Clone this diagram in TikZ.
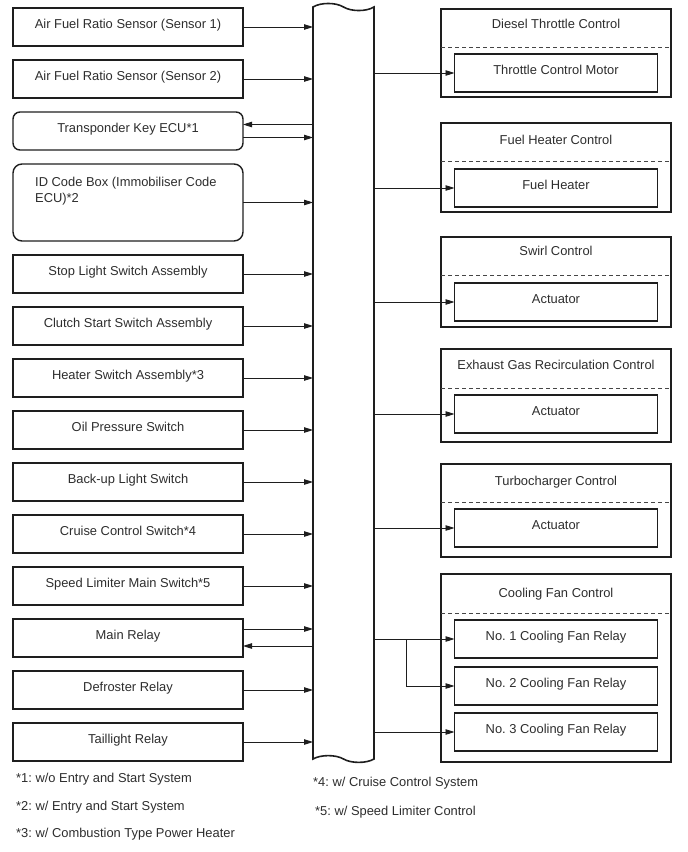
\documentclass[tikz,border=0pt]{standalone}
\usepackage{fontspec}
\setmainfont{Liberation Sans}
\usetikzlibrary{arrows.meta,positioning}
\definecolor{linecol}{RGB}{30,30,30}
\definecolor{txtcol}{RGB}{45,45,45}
\definecolor{dashcol}{RGB}{70,70,70}

\begin{document}
\frenchspacing
\begin{tikzpicture}[
  x=1pt, y=-1pt, >={Triangle[length=9pt,width=5.5pt]}, node distance=14pt,
  txt/.style={font=\fontsize{12.9}{16.5}\selectfont, text=txtcol},
  box/.style={txt, draw=linecol, line width=1.4pt, inner sep=0pt, outer sep=0pt,
              minimum width=230pt, minimum height=38pt, text height=20.3pt, text depth=17.7pt},
  sub/.style={box, minimum width=203pt, anchor=north},
  grp/.style={draw=linecol, line width=1.4pt, inner sep=0pt, outer sep=0pt,
              minimum width=230pt, anchor=north},
  ttl/.style={txt, inner sep=0pt, anchor=base},
  note/.style={txt, inner sep=0pt, anchor=base west},
  sig/.style={->, line width=0.9pt, draw=linecol},
  sep/.style={dash pattern=on 4pt off 3pt, line width=1pt, draw=dashcol},
  bus/.style={draw=linecol, line width=1.6pt, fill=white}
]
\useasboundingbox (0,0) rectangle (688,852);

\node[inner sep=0pt, outer sep=0pt, minimum width=61pt, minimum height=752pt, anchor=north west] (ecm) at (313,7) {};
\draw[bus] (313,759) -- (313,7)
  .. controls (320.6,2.3) and (335.9,2.3) .. (343.5,7)
  .. controls (351.1,11.7) and (366.4,11.7) .. (374,7) -- (374,759)
  .. controls (366.4,763.5) and (351.1,763.5) .. (343.5,759)
  .. controls (335.9,754.5) and (320.6,754.5) .. (313,759) -- cycle;

\node[box] (afs1) at (128,27) {Air Fuel Ratio Sensor (Sensor 1)};
\node[box, below=of afs1] (afs2) {Air Fuel Ratio Sensor (Sensor 2)};
\node[box, rounded corners=7pt, below=of afs2] (tkey) {Transponder Key ECU*1};
\node[box, rounded corners=9pt, minimum height=77pt, below=of tkey] (idbox) {};
\node[txt, inner sep=0pt, align=left, anchor=north west] (idtxt)
  at ([xshift=22pt, yshift=-12.5pt]idbox.north west) {ID Code Box (Immobiliser Code\\ECU)*2};
\node[box, below=of idbox] (stop) {Stop Light Switch Assembly};
\node[box, below=of stop] (clutch) {Clutch Start Switch Assembly};
\node[box, below=of clutch] (heatsw) {Heater Switch Assembly*3};
\node[box, below=of heatsw] (oilsw) {Oil Pressure Switch};
\node[box, below=of oilsw] (bkup) {Back-up Light Switch};
\node[box, below=of bkup] (cruise) {Cruise Control Switch*4};
\node[box, below=of cruise] (spdlim) {Speed Limiter Main Switch*5};
\node[box, below=of spdlim] (mainrly) {Main Relay};
\node[box, below=of mainrly] (defrly) {Defroster Relay};
\node[box, below=of defrly] (tailrly) {Taillight Relay};

\node[grp, minimum height=88pt] (dtc) at (556,9) {};
\draw[sep] ([yshift=-38pt]dtc.north west) -- ([yshift=-38pt]dtc.north east);
\node[ttl] (dtct) at ([yshift=-19pt]dtc.north) {Diesel Throttle Control};
\node[sub] (tcm) at ([yshift=-45pt]dtc.north) {Throttle Control Motor};

\node[grp, minimum height=89pt] (fhc) at (556,123) {};
\draw[sep] ([yshift=-38pt]fhc.north west) -- ([yshift=-38pt]fhc.north east);
\node[ttl] (fhct) at ([yshift=-21pt]fhc.north) {Fuel Heater Control};
\node[sub] (fheat) at ([yshift=-46pt]fhc.north) {Fuel Heater};

\node[grp, minimum height=90pt] (swc) at (556,237) {};
\draw[sep] ([yshift=-38pt]swc.north west) -- ([yshift=-38pt]swc.north east);
\node[ttl] (swct) at ([yshift=-18pt]swc.north) {Swirl Control};
\node[sub] (swact) at ([yshift=-46pt]swc.north) {Actuator};

\node[grp, minimum height=93pt] (egr) at (556,349) {};
\draw[sep] ([yshift=-39pt]egr.north west) -- ([yshift=-39pt]egr.north east);
\node[ttl] (egrt) at ([yshift=-20.3pt]egr.north) {Exhaust Gas Recirculation Control};
\node[sub] (egract) at ([yshift=-46pt]egr.north) {Actuator};

\node[grp, minimum height=93pt] (tbc) at (556,464) {};
\draw[sep] ([yshift=-38pt]tbc.north west) -- ([yshift=-38pt]tbc.north east);
\node[ttl] (tbct) at ([yshift=-21pt]tbc.north) {Turbocharger Control};
\node[sub] (tbact) at ([yshift=-45pt]tbc.north) {Actuator};

\node[grp, minimum height=188pt] (cfc) at (556,574) {};
\draw[sep] ([yshift=-39pt]cfc.north west) -- ([yshift=-39pt]cfc.north east);
\node[ttl] (cfct) at ([yshift=-23.3pt]cfc.north) {Cooling Fan Control};
\node[sub] (cfr1) at ([yshift=-46pt]cfc.north) {No. 1 Cooling Fan Relay};
\node[sub, below=9pt of cfr1] (cfr2) {No. 2 Cooling Fan Relay};
\node[sub, below=8pt of cfr2] (cfr3) {No. 3 Cooling Fan Relay};

\coordinate (tkin) at ([yshift=6.5pt]tkey.east);
\coordinate (tkout) at ([yshift=-6.5pt]tkey.east);
\coordinate (mrout) at ([yshift=9pt]mainrly.east);
\coordinate (mrin) at ([yshift=-8pt]mainrly.east);

\draw[sig] (afs1) -- (afs1 -| ecm.west);
\draw[sig] (afs2) -- (afs2 -| ecm.west);
\draw[sig] (tkin -| ecm.west) -- (tkin);
\draw[sig] (tkout) -- (tkout -| ecm.west);
\draw[sig] (idbox) -- (idbox -| ecm.west);
\draw[sig] (stop) -- (stop -| ecm.west);
\draw[sig] (clutch) -- (clutch -| ecm.west);
\draw[sig] (heatsw) -- (heatsw -| ecm.west);
\draw[sig] (oilsw) -- (oilsw -| ecm.west);
\draw[sig] (bkup) -- (bkup -| ecm.west);
\draw[sig] (cruise) -- (cruise -| ecm.west);
\draw[sig] (spdlim) -- (spdlim -| ecm.west);
\draw[sig] (mrout) -- (mrout -| ecm.west);
\draw[sig] (mrin -| ecm.west) -- (mrin);
\draw[sig] (defrly) -- (defrly -| ecm.west);
\draw[sig] (tailrly) -- (tailrly -| ecm.west);

\draw[sig] (tcm -| ecm.east) -- (tcm);
\draw[sig] (fheat -| ecm.east) -- (fheat);
\draw[sig] (swact -| ecm.east) -- (swact);
\draw[sig] (egract -| ecm.east) -- (egract);
\draw[sig] (tbact -| ecm.east) -- (tbact);
\draw[sig] (cfr1 -| ecm.east) -- (cfr1);
\path (cfr1 -| ecm.east) ++(32,0) coordinate (cfj);
\draw[sig] (cfj) |- (cfr2);
\draw[sig] (cfr3 -| ecm.east) -- (cfr3);

\node[note] (n1) at (16,782.5) {*1: w/o Entry and Start System};
\node[note] (n2) at (16,810) {*2: w/ Entry and Start System};
\node[note] (n3) at (16,837.3) {*3: w/ Combustion Type Power Heater};
\node[note] (n4) at (313,786.7) {*4: w/ Cruise Control System};
\node[note] (n5) at (315,815) {*5: w/ Speed Limiter Control};
\end{tikzpicture}
\end{document}
